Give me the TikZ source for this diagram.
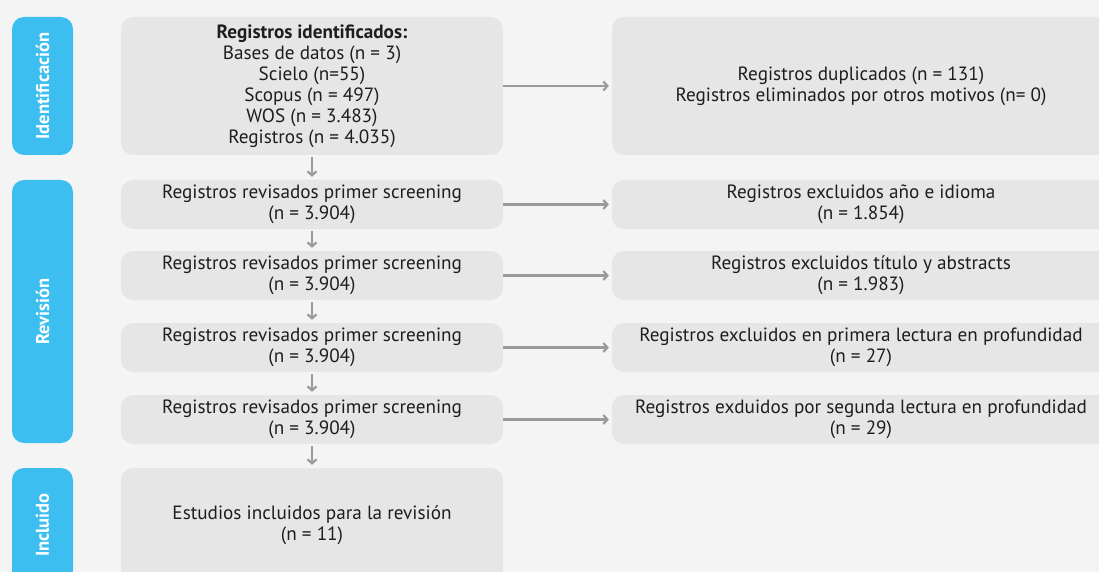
\documentclass[tikz,border=0pt]{standalone}
\usepackage{fontspec}
\setmainfont{PT Sans}
\usetikzlibrary{arrows.meta}
\definecolor{bgcol}{HTML}{F4F4F4}
\definecolor{boxcol}{HTML}{E6E6E6}
\definecolor{tabcol}{HTML}{3DBEF0}
\definecolor{arrcol}{HTML}{9A9A9A}
\definecolor{txtcol}{HTML}{1E1E1E}
\newcommand{\boxrad}{12pt}

\begin{document}
\begin{tikzpicture}[x=1pt,y=-1pt,
    stage/.style={fill=tabcol, rounded corners=\boxrad, rotate=90, minimum height=61pt, inner sep=0pt,
      text=white, font=\fontsize{18.5}{20}\selectfont\bfseries},
    recbox/.style={fill=boxcol, rounded corners=\boxrad, inner sep=0pt, align=center,
      text=txtcol, font=\fontsize{19.2}{21}\selectfont},
    leftbox/.style={recbox, minimum width=382pt, minimum height=49pt},
    rightbox/.style={recbox, minimum width=498pt, minimum height=49pt},
    flow/.style={draw=arrcol, line width=2.2pt, shorten >=3pt, shorten <=2pt,
      -{Straight Barb[length=4pt,width=9pt]}}]

        \clip (0,0) rectangle (1099,572);
        \fill[bgcol] (0,0) rectangle (1099,572);

          % stages
        \node (ident) at (42.5,86) [stage, minimum width=138pt] {Identificación};
        \node (revis) at (42.5,311.5) [stage, minimum width=263pt] {Revisión};
        \node (inclu) at (42.5,525) [stage, minimum width=114pt] {Incluido};

          % main column
        \node (regid) at (312,86) [leftbox, minimum height=138pt]
              {\textbf{Registros identificados:}\\Bases de datos (n = 3)\\Scielo (n=55)\\Scopus (n = 497)\\WOS (n = 3.483)\\Registros (n = 4.035)};
        \node (scr1) at (312,204.5) [leftbox] {Registros revisados primer screening\\(n = 3.904)};
        \node (scr2) at (312,275.5) [leftbox] {Registros revisados primer screening\\(n = 3.904)};
        \node (scr3) at (312,347.5) [leftbox] {Registros revisados primer screening\\(n = 3.904)};
        \node (scr4) at (312,419.5) [leftbox] {Registros revisados primer screening\\(n = 3.904)};
        \node (final) at (312,525) [leftbox, minimum height=114pt] {Estudios incluidos para la revisión\\(n = 11)};

          % excluded column
        \node (dup) at (861,86) [rightbox, minimum height=138pt]
              {Registros duplicados (n = 131)\\Registros eliminados por otros motivos (n= 0)};
        \node (exc1) at (861,204.5) [rightbox] {Registros excluidos año e idioma\\(n = 1.854)};
        \node (exc2) at (861,275.5) [rightbox] {Registros excluidos título y abstracts\\(n = 1.983)};
        \node (exc3) at (861,347.5) [rightbox] {Registros excluidos en primera lectura en profundidad\\(n = 27)};
        \node (exc4) at (861,419.5) [rightbox] {Registros exduidos por segunda lectura en profundidad\\(n = 29)};

        \draw[flow] (regid) -- (scr1);
        \draw[flow] (scr1) -- (scr2);
        \draw[flow] (scr2) -- (scr3);
        \draw[flow] (scr3) -- (scr4);
        \draw[flow] (scr4) -- (final);

        \draw[flow, shorten <=0pt] (regid) -- (dup);
        \draw[flow, shorten <=0pt] (scr1) -- (exc1);
        \draw[flow, shorten <=0pt] (scr2) -- (exc2);
        \draw[flow, shorten <=0pt] (scr3) -- (exc3);
        \draw[flow, shorten <=0pt] (scr4) -- (exc4);

\end{tikzpicture}
\end{document}
